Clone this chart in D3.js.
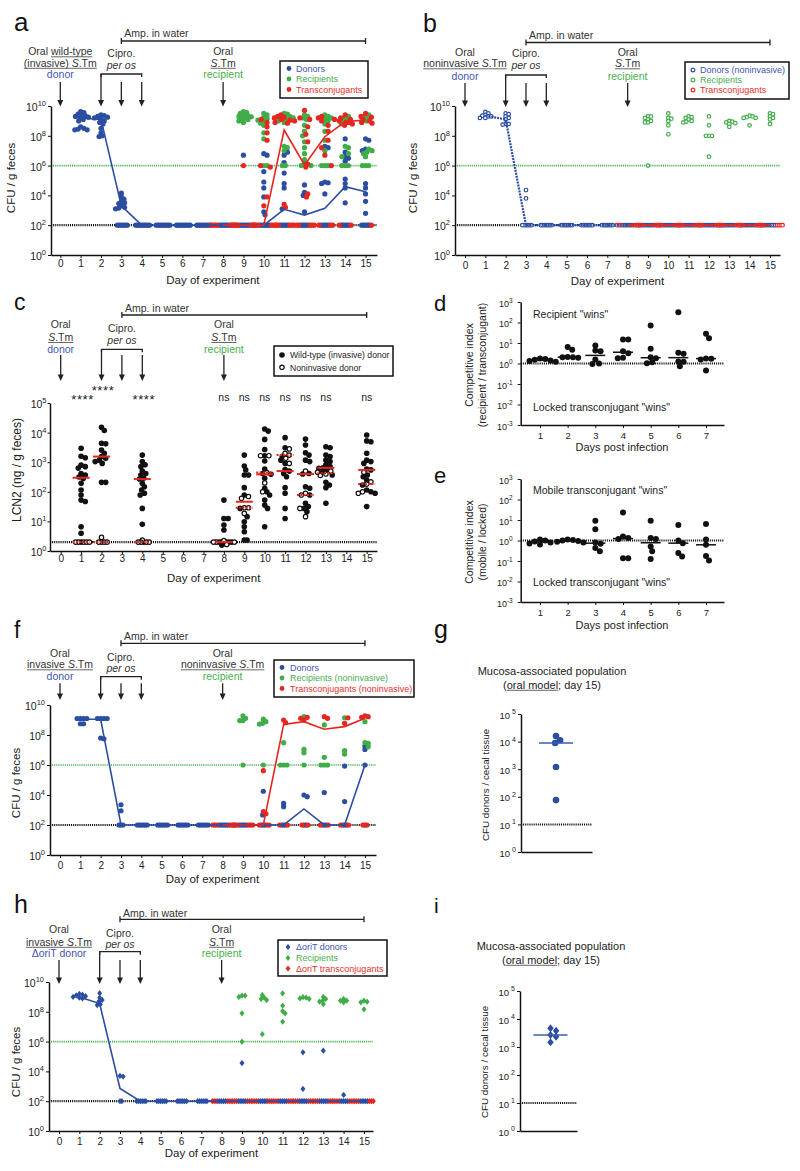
<!DOCTYPE html>
<html><head><meta charset="utf-8">
<script src="https://cdn.jsdelivr.net/npm/d3@7"></script>
<style>
body{margin:0;background:#fff;}
svg{display:block;font-family:'Liberation Sans',Arial,Helvetica,sans-serif;}
</style></head><body>
<svg id="fig" width="800" height="1171"></svg>
<script>
// ---------------- DATA ----------------
const dayTicks = [0,1,2,3,4,5,6,7,8,9,10,11,12,13,14,15];
const cfuTickExps = [0,2,4,6,8,10];
const lcnTickExps = [0,1,2,3,4,5];
const ciTickExps = [-3,-2,-1,0,1,2,3];
const dpiTicks = [1,2,3,4,5,6,7];
const mucTickExps = [0,1,2,3,4,5];
const treatmentArrowDays = [0,2,3,4,8];
const LOD_CFU_LOG = 2;      // detection limit, log10 CFU/g
const REC_LIMIT_LOG = 6;    // recipient detection limit, log10 CFU/g
const LOD_LCN_LOG = 0.3;    // 2 ng/g
const MUC_LOD_LOG = 1;

// panel a (log10 CFU / g feces, index = day)
const aDonorsLog = [[],
 [9.62,9.55,9.45,9.4,9.35,9.3,9.25,9.2,9.1,9.0,8.6,8.5,8.45,8.4,8.4],
 [9.4,9.35,9.3,9.25,9.2,9.1,9.0,8.9,8.8,8.5,8.2,7.95,8.0],
 [4.15,3.9,3.75,3.6,3.5,3.45,3.3,3.2,3.15,3.1],
 [],[],[],[],[],
 [6.7],
 [6.8,6.7,5.6,4.9,4.5,3.9,2.9,2.7],
 [6.9,6.7,6.2,5.5,4.8,4.5,3.1],
 [6.1,4.7,4.2,4.0,2.9],
 [7.3,7.2,4.9,4.85,4.8,4.1],
 [7.8,6.9,6.6,6.5,6.3,5.1,4.8,4.5,3.5],
 [7.8,7.7,7.1,7.0,4.8,4.5,4.1,3.6,2.8]];
const aDonorsLod = [0,0,0,6,8,8,8,8,6,6,6,5,5,5,5,5];
const aRecipLog = [[],[],[],[],[],[],[],[],[],
 [9.62,9.55,9.5,9.4,9.35,9.3,9.28,9.2,9.15,9.1,9.0,8.9],
 [9.5,9.4,9.25,9.15,9.05,8.95,8.85,8.7,8.2,7.8,6.0,6.0],
 [9.5,9.45,9.3,9.2,9.1,9.0,8.9,7.3,7.2,7.0,6.0,6.0],
 [9.4,9.3,9.2,9.1,8.7,8.3,8.0,7.6,7.2,6.8,6.4,6.0,6.0],
 [9.4,9.3,9.2,9.1,9.0,8.8,8.3,7.7,7.0,6.0,6.0,6.0],
 [9.3,9.2,9.1,9.0,8.8,7.3,7.2,6.8,6.6,6.0,6.0,6.0],
 [9.4,9.3,9.2,9.0,7.1,7.0,6.9,6.8,6.6,6.0,6.0,6.0]];
const aTransLog = [[],[],[],[],[],[],[],[],[],
 [6.0],
 [9.1,8.9,8.6,8.2,7.7,6.0,5.9,3.9,3.3],
 [9.4,9.3,9.25,9.2,9.1,9.05,9.0,8.9,8.85,3.4,3.2],
 [9.7,9.2,9.1,8.6,8.1,7.6,6.1,5.9,4.1,3.9],
 [9.3,9.2,9.1,9.0,8.7,8.3,7.7,7.2,6.7,6.0],
 [9.4,9.2,9.1,9.0,8.9,8.9,8.8,8.7],
 [9.5,9.3,9.25,9.1,9.0,8.9,8.85]];
const aTransLod = [0,0,0,0,0,0,0,0,8,7,7,5,5,3,2,1];
const aDonorMedLog = [null,9.2,9.1,3.3,2,2,2,2,2,2,2,3.07,2.68,3.13,4.58,4.25];
const aTransMedLog = [null,null,null,null,null,null,null,null,2,2,2,8.39,6.04,7.94,8.95,9.06];

// panel b
const bDonorsLog = [[],[9.6,9.5,9.4,9.35,9.3,9.3,9.2,9.2],[9.5,9.45,9.3,9.2,9.1,8.8,8.8,8.75],[4.36,3.8],[],[],[],[],[],[],[],[],[],[],[],[]];
const bDonorsLod = [0,0,0,6,7,7,7,7,7,7,7,7,7,7,7,7];
const bRecipLog = [[],[],[],[],[],[],[],[],[],
 [9.3,9.3,9.2,9.1,9.0,8.9,8.9,6.0],[9.5,9.2,9.15,9.0,8.7,8.1],[9.3,9.25,9.2,9.1,9.0,8.95,8.9],
 [9.3,8.7,8.0,8.0,8.0,6.6],[9.0,8.95,8.9,8.85,8.8,8.6],[9.35,9.3,9.25,9.2,9.2,8.7],[9.5,9.45,9.3,9.2,9.1,8.8]];
const bTransLog = [[],[],[],[],[],[],[],[],[],[],[],[],[],[],[],[]];
const bTransLod = [0,0,0,0,0,0,0,0,7,7,7,7,7,7,7,7];
const bDonorMedLog = [null,9.35,9.1,2,2,2,2,2,2,2,2,2,2,2,2,2];
const bTransMedLog = [null,null,null,null,null,null,null,null,2,2,2,2,2,2,2,2];

// panel c (log10 LCN2 ng / g feces)
const cWtLog = [[],
 [3.47,3.2,3.15,2.9,2.85,2.8,2.62,2.57,2.5,2.45,2.29,2.06,1.89,1.72,1.67,0.82,0.6,0.3],
 [4.18,4.07,3.64,3.62,3.41,3.3,3.19,3.13,3.07,3.02,2.96,2.32,2.32],
 [],
 [3.24,3.02,2.91,2.85,2.7,2.62,2.57,2.46,2.43,2.29,2.17,2.06,1.95,1.89,1.44,0.9,0.3],
 [],[],[],
 [1.72,1.1,1.1,0.88,0.71,0.3,0.3,0.3,0.3,0.3,0.25,0.2],
 [3.24,2.87,2.74,2.57,2.57,2.14,1.89,1.44,1.16,0.99,0.82,0.65,0.37,0.37],
 [4.12,4.05,3.77,3.43,3.22,3.04,2.77,2.62,2.59,2.46,2.12,2.0,1.89,1.72,1.55,1.44,0.82],
 [3.83,3.49,3.2,3.07,2.96,2.75,2.7,2.62,2.51,2.14,1.95,1.44,1.1],
 [3.78,3.58,3.32,3.24,3.07,3.02,2.62,2.6,2.17,2.12,1.89,1.61,1.5,1.44,1.33],
 [3.52,3.49,3.24,3.19,3.07,3.02,2.91,2.85,2.81,2.79,2.74,2.68,2.57,2.32,2.23,2.14,1.61],
 [],
 [3.92,3.72,3.69,3.3,3.07,3.02,2.96,2.77,2.74,2.57,2.51,2.4,2.23,2.06,2.0,1.95,1.5]];
const cNonLog = [[],
 [0.3,0.3,0.3,0.3,0.3],
 [0.46,0.3,0.3,0.3,0.3],
 [],
 [0.37,0.3,0.3,0.3,0.3],
 [],[],[],
 [0.35,0.3,0.3,0.3,0.22],
 [1.84,1.78,1.46,1.46,1.27],
 [3.22,3.22,2.65,2.3,2.0],
 [3.45,3.3,3.24,3.13,2.96],
 [2.7,1.95,1.89,1.44,1.16],
 [2.7,2.66,2.6,2.55],
 [],
 [2.66,2.34,2.26,2.0,1.95]];
const cSigDays = [1,2,4,8,9,10,11,12,13,15];
const cSigLabels = ["****","****","****","ns","ns","ns","ns","ns","ns","ns"];

// panels d, e (log10 competitive index, index = day post infection)
const dLog = [[],[0.25,0.22,0.18,0.15,0.12,0.08],[0.8,0.67,0.32,0.3,0.3,0.28],[0.88,0.63,0.6,0.19,-0.02,0.0],
 [1.17,1.17,0.6,0.5,0.28,0.26],[1.85,0.72,0.3,0.26,0.06,0.01],[2.5,0.52,0.47,0.1,0.08,-0.14],[1.45,1.23,0.25,0.23,0.2,-0.34]];
const eLog = [[],[0.05,0.0,-0.05,-0.1,-0.15,-0.2],[0.05,0.02,0,-0.03,-0.06,-0.1],[0.96,0.55,-0.1,-0.16,-0.37,-0.53],
 [1.36,0.2,0.12,0.07,-0.86,-0.86],[0.96,0.12,0.07,-0.29,-0.53,-0.9],[0.76,0,-0.13,-0.61,-0.78],[0.8,0.05,-0.21,-0.76,-0.97]];

// panel f
const fDonorsLog = [[],[9.1,9.1,9.1,9.1,8.75,8.75],[9.1,9.1,9.1,9.1,7.8,7.75],[3.35,2.95],[],[],[],[],[],[],
 [4.25,2.67],[3.44,3.22],[4.0,3.89],[4.16],[5.93,3.56],[7.27,7.04,6.0]];
const fDonorsLod = [0,0,0,3,6,6,6,6,6,5,3,3,2,3,3,1];
const fRecipLog = [[],[],[],[],[],[],[],[],[],
 [9.27,9.11,8.96,8.96,6.0],[9.06,8.89,8.78,8.73,6.0],[7.49,6.0,6.0,6.0],[9.22,7.04,6.82,6.0],
 [8.67,6.51,6.0,6.0,6.0],[9.15,6.96,6.73],[8.89,7.49,7.44,7.22]];
const fTransLog = [[],[],[],[],[],[],[],[],[],[],
 [5.62,2.9,2.75],[9.0,8.82],[9.0,9.18,9.11],[9.11,9.22],[8.78,9.15],[9.18,9.22,9.27]];
const fTransLod = [0,0,0,0,0,0,0,0,6,6,3,2,2,2,2,2];
const fDonorMedLog = [null,9.05,9.05,2,2,2,2,2,2,2,2,2,3.07,2,2,6.0];
const fTransMedLog = [null,null,null,null,null,null,null,null,2,2,2,8.71,8.89,8.38,8.56,9.11];

// panel g, i (log10 CFU donors / cecal tissue)
const gLog = [4.2,4.05,3.95,3.08,1.88];
const iLog = [3.67,3.58,3.43,3.37,3.17];

// panel h
const hDonorsLog = [[],[9.2,9.15,9.1,9.05,9.0,8.95,8.9],[9.25,8.95,8.8,8.7,8.5,8.45],[3.7,3.65],[],[],[],[],[],
 [4.56],[],[],[5.28,2.82],[5.39],[2.42],[]];
const hDonorsLod = [0,0,0,2,6,6,6,6,5,5,5,5,5,5,5,5];
const hRecipLog = [[],[],[],[],[],[],[],[],[],
 [9.08,9.08,9.0,7.9,5.99],[9.13,8.95,8.86,8.79,6.5],[9.24,8.41,8.05,7.9,7.34],[8.98,8.95,8.9,8.86],
 [9.0,8.86,8.75,8.68,8.52],[8.86,8.75,8.75,8.64],[8.75,8.68,8.64,8.17]];
const hTransLog = [[],[],[],[],[],[],[],[],[],[],[],[],[],[],[],[]];
const hTransLod = [0,0,0,0,0,0,0,0,6,6,6,6,6,6,6,6];
const hDonorMedLog = [null,9.0,8.55,2.86,2,2,2,2,2,2,2,2,2,2,2,2];

// ---------------- STYLE ----------------
const FONT = "'Liberation Sans', Arial, Helvetica, sans-serif";
const BLUE = "#2b4ea3", GREEN = "#40ad48", RED = "#e6261f";
const BLUE_T = "#4356b3", GREEN_T = "#46b04d", RED_T = "#e8302a";
const INK = "#333";

const svg = d3.select("#fig");
svg.append("rect").attr("width",800).attr("height",1171).attr("fill","#fff");

function styleAxis(ag, size){
  ag.attr("font-family",FONT).attr("font-size",size);
  ag.select(".domain").attr("stroke","#111").attr("stroke-width",1.5);
  ag.selectAll(".tick line").attr("stroke","#111").attr("stroke-width",1);
  ag.selectAll(".tick text").attr("fill","#222");
}
function powLabels(ag, o){
  ag.selectAll(".tick text").each(function(d){
    const t = d3.select(this);
    const e = Math.round(Math.log10(d));
    t.text(null).attr("dy", null).attr("y", o.dy).attr("font-size", o.base);
    t.append("tspan").text("10");
    t.append("tspan").attr("dx", o.dx || 0).attr("dy", o.supDy).attr("font-size", o.sup).text(String(e));
  });
}
function hDotted(g,x1,x2,yv,color,w){
  g.append("line").attr("x1",x1).attr("x2",x2).attr("y1",yv).attr("y2",yv)
   .attr("stroke",color).attr("stroke-width",w).attr("stroke-dasharray","1.1,1");
}
function richText(g, x, y, parts, o){
  o = o || {};
  const t = g.append("text").attr("x",x).attr("y",y).attr("text-anchor",o.anchor||"middle")
    .attr("font-size",o.size||10.5).attr("fill",o.color||INK);
  parts.forEach(p=>{ const s=t.append("tspan").text(p.t); if(p.i) s.attr("font-style","italic"); if(p.c) s.attr("fill",p.c); });
  const node = t.node(); let idx = 0;
  parts.forEach(p=>{
    if(p.u){
      const s = node.getStartPositionOfChar(idx).x;
      const e = node.getEndPositionOfChar(idx+p.t.length-1).x;
      g.append("line").attr("x1",s).attr("x2",e).attr("y1",y+1.8).attr("y2",y+1.8)
       .attr("stroke",p.c||"#555").attr("stroke-width",0.9);
    }
    idx += p.t.length;
  });
  return t;
}
function arrow(g, x, y1, y2){
  g.append("line").attr("x1",x).attr("x2",x).attr("y1",y1).attr("y2",y2-5).attr("stroke","#222").attr("stroke-width",1.3);
  g.append("path").attr("d",`M${x-3},${y2-6.5}L${x+3},${y2-6.5}L${x},${y2}Z`).attr("fill","#222");
}
function drawMarker(g, x, y, type, color, r){
  if(type==="dot") g.append("circle").attr("cx",x).attr("cy",y).attr("r",r).attr("fill",color);
  else if(type==="open") g.append("circle").attr("cx",x).attr("cy",y).attr("r",r-0.6).attr("fill","#fff").attr("stroke",color).attr("stroke-width",1.2);
  else if(type==="diamond") g.append("path").attr("d",`M${x},${y-r*1.25}L${x+r},${y}L${x},${y+r*1.25}L${x-r},${y}Z`).attr("fill",color);
}
function swarmLayout(items, r, f, tightF){
  const groups = d3.group(items, d=>d.key);
  for(const [k, arr] of groups){
    const placed = [];
    arr.slice().sort((a,b)=>a.cy-b.cy).forEach(it=>{
      let px = it.cx;
      for(let i=0;i<200;i++){
        const off = i===0 ? 0 : (i%2 ? 1 : -1)*Math.ceil(i/2)*r*0.25;
        const cand = it.cx + off;
        const ok = placed.every(p=>{
          const md = 2*r*((it.tight && p.tight) ? tightF : f);
          return (p.x-cand)**2 + (p.y-it.cy)**2 >= md*md;
        });
        if(ok){ px = cand; break; }
      }
      it.x = px; placed.push({x:px, y:it.cy, tight:it.tight});
    });
  }
}
function panelLetter(t, x, y, size){
  svg.append("text").attr("x",x).attr("y",y).attr("font-size",size).attr("fill","#111").attr("font-family",FONT).text(t);
}
function legend(g, L, rows){
  g.append("rect").attr("x",L.x).attr("y",L.y).attr("width",L.w).attr("height",L.h)
   .attr("fill","#fff").attr("stroke","#111").attr("stroke-width",1.5);
  rows.forEach((r,i)=>{
    drawMarker(g, L.dotX, L.rows[i], r.marker, r.color, r.r || 2.4);
    g.append("text").attr("x",L.textX).attr("y",L.rows[i]+3.2).attr("font-size",L.size||9)
     .attr("fill",r.textColor).text(r.label);
  });
}
function annotations(g, x, a){
  const ax1 = x(3), ax2 = x(15);
  g.append("text").attr("x",ax1+3).attr("y",a.ampTextY).attr("font-size",10.5).attr("fill",INK).text("Amp. in water");
  g.append("path").attr("d",`M${ax1},${a.ampY-3}V${a.ampY+3}M${ax1},${a.ampY}H${ax2}M${ax2},${a.ampY-3}V${a.ampY+3}`)
   .attr("stroke","#222").attr("stroke-width",1.3).attr("fill","none");
  a.donor.forEach((parts,i)=>richText(g, x(0), a.oralY[i], parts));
  a.recip.forEach((parts,i)=>richText(g, x(8), a.oralY[i], parts));
  richText(g, x(3), a.ciproY[0], [{t:"Cipro."}]);
  richText(g, x(3), a.ciproY[1], [{t:"per os", i:1}]);
  g.append("path").attr("d",`M${x(2)},${a.cbY+3}V${a.cbY}H${x(4)}V${a.cbY+3}`)
   .attr("stroke","#222").attr("stroke-width",1.3).attr("fill","none");
  treatmentArrowDays.forEach(d=>arrow(g, x(d), d===2 ? a.cbY : a.arrowTop, a.arrowBot));
}

// ---------------- CFU PANELS ----------------
function cfuPanel(cfg){
  const g = svg.append("g").attr("font-family",FONT);
  const x = d3.scaleLinear().domain([0,15]).range([cfg.x0, cfg.x0+15*cfg.dx]);
  const xa = d3.scaleLinear().domain([x.invert(cfg.axisX), x.invert(cfg.xEnd)]).range([cfg.axisX, cfg.xEnd]);
  const y = d3.scaleLog().domain([1,1e10]).range([cfg.yBot, cfg.yTop]);
  hDotted(g, cfg.axisX, cfg.xEnd, y(10**REC_LIMIT_LOG), GREEN, 1.6);
  hDotted(g, cfg.axisX, cfg.xEnd, y(10**LOD_CFU_LOG), "#111", 2.2);
  const xg = g.append("g").attr("transform",`translate(0,${cfg.yBot})`)
    .call(d3.axisBottom(xa).tickValues(dayTicks).tickSize(3).tickSizeOuter(0).tickPadding(cfg.xPad));
  styleAxis(xg, 10);
  const yg = g.append("g").attr("transform",`translate(${cfg.axisX},0)`)
    .call(d3.axisLeft(y).tickValues(cfuTickExps.map(e=>10**e)).tickSize(3).tickSizeOuter(0).tickPadding(2));
  styleAxis(yg, 10.5);
  powLabels(yg, {dy:4.5, base:10.5, sup:7.5, supDy:-5});
  g.append("text").attr("x",(x(0)+x(15))/2).attr("y",cfg.xTitleY).attr("text-anchor","middle").attr("font-size",11.5).attr("fill","#222").text("Day of experiment");
  g.append("text").attr("transform",`translate(${cfg.yTitleX},${cfg.yTitleY}) rotate(-90)`).attr("text-anchor","middle").attr("font-size",11.5).attr("fill","#222").text("CFU / g feces");

  const items = [];
  cfg.series.forEach((s,si)=>{
    dayTicks.forEach(d=>{
      const vals = (s.vals[d]||[]).slice();
      const n = s.lod ? s.lod[d] : 0;
      for(let k=0;k<n;k++) vals.push(LOD_CFU_LOG);
      vals.forEach(v=>items.push({key:d, cx:x(d), cy:y(10**v), si, tight: v===LOD_CFU_LOG}));
    });
  });
  swarmLayout(items, cfg.r, 0.62, 0.26);
  cfg.series.forEach((s,si)=>items.filter(it=>it.si===si).forEach(it=>drawMarker(g, it.x, it.cy, cfg.marker, s.color, cfg.r)));
  cfg.lines.forEach(l=>{
    const pts = dayTicks.filter(d=>l.vals[d]!=null).map(d=>[x(d), y(10**l.vals[d])]);
    g.append("path").attr("d",d3.line()(pts)).attr("fill","none").attr("stroke",l.color)
     .attr("stroke-width",l.w||1.6).attr("stroke-dasharray",l.dash||null);
  });
  annotations(g, x, cfg.anno);
  legend(g, cfg.legend, cfg.series.map(s=>({label:s.label, color:s.color, textColor:s.textColor, marker:cfg.marker, r:cfg.legendR||2.4})));
}

const recipDefault = [[{t:"Oral"}],[{t:"S",i:1,u:1},{t:".Tm",u:1}],[{t:"recipient",c:GREEN_T}]];

cfuPanel({
  x0:60.3, dx:20.35, axisX:51, xEnd:377, yTop:106, yBot:255, xPad:1.9, xTitleY:284, yTitleX:15, yTitleY:178,
  r:2.6, marker:"dot",
  series:[
    {vals:aDonorsLog, lod:aDonorsLod, color:BLUE, textColor:BLUE_T, label:"Donors"},
    {vals:aRecipLog, lod:null, color:GREEN, textColor:GREEN_T, label:"Recipients"},
    {vals:aTransLog, lod:aTransLod, color:RED, textColor:RED_T, label:"Transconjugants"}],
  lines:[{vals:aDonorMedLog, color:BLUE},{vals:aTransMedLog, color:RED}],
  anno:{ampTextY:37, ampY:41, oralY:[55,66.5,78], ciproY:[57,68.5], cbY:74, arrowTop:82, arrowBot:106.5,
    donor:[[{t:"Oral "},{t:"wild-type",u:1}],[{t:"(invasive) ",u:1},{t:"S",i:1,u:1},{t:".Tm",u:1}],[{t:"donor",c:BLUE_T}]],
    recip:recipDefault},
  legend:{x:280,y:61,w:88,h:37,rows:[68.5,79,89.5],dotX:289,textX:296}
});

cfuPanel({
  x0:465, dx:20.33, axisX:455, xEnd:780, yTop:106, yBot:255, xPad:4.2, xTitleY:285, yTitleX:417, yTitleY:178,
  r:2.4, marker:"open", legendR:2.5,
  series:[
    {vals:bDonorsLog, lod:bDonorsLod, color:BLUE, textColor:BLUE_T, label:"Donors (noninvasive)"},
    {vals:bRecipLog, lod:null, color:GREEN, textColor:GREEN_T, label:"Recipients"},
    {vals:bTransLog, lod:bTransLod, color:RED, textColor:RED_T, label:"Transconjugants"}],
  lines:[{vals:bDonorMedLog, color:BLUE, dash:"2,1", w:2.2},{vals:bTransMedLog, color:RED, w:2}],
  anno:{ampTextY:39, ampY:42.5, oralY:[55.5,67,80], ciproY:[57,69], cbY:75, arrowTop:83, arrowBot:107,
    donor:[[{t:"Oral"}],[{t:"noninvasive ",u:1},{t:"S",i:1,u:1},{t:".Tm",u:1}],[{t:"donor",c:BLUE_T}]],
    recip:recipDefault},
  legend:{x:685,y:62,w:104,h:37,rows:[70,80,90],dotX:693,textX:700}
});

cfuPanel({
  x0:60, dx:20.33, axisX:50, xEnd:376, yTop:705, yBot:855, xPad:4.2, xTitleY:883, yTitleX:20, yTitleY:783,
  r:2.6, marker:"dot",
  series:[
    {vals:fDonorsLog, lod:fDonorsLod, color:BLUE, textColor:BLUE_T, label:"Donors"},
    {vals:fRecipLog, lod:null, color:GREEN, textColor:GREEN_T, label:"Recipients (noninvasive)"},
    {vals:fTransLog, lod:fTransLod, color:RED, textColor:RED_T, label:"Transconjugants (noninvasive)"}],
  lines:[{vals:fDonorMedLog, color:BLUE},{vals:fTransMedLog, color:RED}],
  anno:{ampTextY:640, ampY:643.3, oralY:[656.5,668,680], ciproY:[660.5,671.5], cbY:676.7, arrowTop:683.3, arrowBot:700,
    donor:[[{t:"Oral"}],[{t:"invasive ",u:1},{t:"S",i:1,u:1},{t:".Tm",u:1}],[{t:"donor",c:BLUE_T}]],
    recip:[[{t:"Oral"}],[{t:"noninvasive ",u:1},{t:"S",i:1,u:1},{t:".Tm",u:1}],[{t:"recipient",c:GREEN_T}]]},
  legend:{x:274,y:660,w:140,h:37,rows:[667.5,678,688.5],dotX:282,textX:290}
});

cfuPanel({
  x0:59, dx:20.33, axisX:49, xEnd:373, yTop:982, yBot:1131, xPad:4.2, xTitleY:1157, yTitleX:20, yTitleY:1062,
  r:2.5, marker:"diamond", legendR:2.4,
  series:[
    {vals:hDonorsLog, lod:hDonorsLod, color:BLUE, textColor:BLUE_T, label:"\u0394oriT donors"},
    {vals:hRecipLog, lod:null, color:GREEN, textColor:GREEN_T, label:"Recipients"},
    {vals:hTransLog, lod:hTransLod, color:RED, textColor:RED_T, label:"\u0394oriT transconjugants"}],
  lines:[{vals:hDonorMedLog, color:BLUE}],
  anno:{ampTextY:916.5, ampY:919.3, oralY:[933,945.5,957], ciproY:[936.5,948], cbY:951.7, arrowTop:960, arrowBot:984,
    donor:[[{t:"Oral"}],[{t:"invasive ",u:1},{t:"S",i:1,u:1},{t:".Tm",u:1}],[{t:"\u0394oriT donor",c:BLUE_T}]],
    recip:recipDefault},
  legend:{x:278,y:940,w:109,h:36,rows:[947,958,968.5],dotX:288,textX:296}
});

// ---------------- PANEL C ----------------
(function(){
  const cfg = {x0:60.7, dx:20.4, axisX:50, xEnd:377, yTop:403, yBot:551};
  const g = svg.append("g").attr("font-family",FONT);
  const x = d3.scaleLinear().domain([0,15]).range([cfg.x0, cfg.x0+15*cfg.dx]);
  const xa = d3.scaleLinear().domain([x.invert(cfg.axisX), x.invert(cfg.xEnd)]).range([cfg.axisX, cfg.xEnd]);
  const y = d3.scaleLog().domain([1,1e5]).range([cfg.yBot, cfg.yTop]);
  hDotted(g, cfg.axisX, cfg.xEnd, y(10**LOD_LCN_LOG), "#111", 2.2);
  const xg = g.append("g").attr("transform",`translate(0,${cfg.yBot})`)
    .call(d3.axisBottom(xa).tickValues(dayTicks).tickSize(3).tickSizeOuter(0).tickPadding(1));
  styleAxis(xg, 10);
  const yg = g.append("g").attr("transform",`translate(${cfg.axisX},0)`)
    .call(d3.axisLeft(y).tickValues(lcnTickExps.map(e=>10**e)).tickSize(2.5).tickSizeOuter(0).tickPadding(1));
  styleAxis(yg, 10.5);
  powLabels(yg, {dy:4.5, base:10.5, sup:7.5, supDy:-5});
  g.append("text").attr("x",(x(0)+x(15))/2).attr("y",582).attr("text-anchor","middle").attr("font-size",11.5).attr("fill","#222").text("Day of experiment");
  g.append("text").attr("transform","translate(21,470) rotate(-90)").attr("text-anchor","middle").attr("font-size",12).attr("fill","#222").text("LCN2 (ng / g feces)");

  const items = [];
  [cWtLog, cNonLog].forEach((arr,si)=>{
    dayTicks.forEach(d=>{
      (arr[d]||[]).forEach(v=>items.push({key:d, cx:x(d), cy:y(10**v), si, tight: Math.abs(v-LOD_LCN_LOG)<0.11}));
    });
  });
  swarmLayout(items, 2.8, 0.72, 0.42);
  items.filter(it=>it.si===0).forEach(it=>drawMarker(g, it.x, it.cy, "dot", "#111", 2.8));
  items.filter(it=>it.si===1).forEach(it=>drawMarker(g, it.x, it.cy, "open", "#111", 2.8));
  [[cWtLog,null],[cNonLog,"2,1.3"]].forEach(([arr,dash])=>{
    dayTicks.forEach(d=>{
      if(!arr[d] || !arr[d].length) return;
      const m = d3.median(arr[d]);
      g.append("line").attr("x1",x(d)-8.5).attr("x2",x(d)+8.5).attr("y1",y(10**m)).attr("y2",y(10**m))
       .attr("stroke",RED).attr("stroke-width",2).attr("stroke-dasharray",dash);
    });
  });
  cSigDays.forEach((d,i)=>{
    const stars = cSigLabels[i] === "****";
    const raised = stars && d===2;
    g.append("text").attr("x",x(d)+(stars?1.5:0)).attr("y", raised ? 395 : (stars ? 404 : 400.5))
     .attr("text-anchor","middle").attr("font-size", stars ? 13 : 10.5).attr("letter-spacing", stars ? 0.6 : 0)
     .attr("fill","#222").text(cSigLabels[i]);
  });
  annotations(g, x, {ampTextY:312, ampY:315, oralY:[328,340.7,353], ciproY:[332,344], cbY:349.3, arrowTop:355, arrowBot:381,
    donor:[[{t:"Oral"}],[{t:"S",i:1,u:1},{t:".Tm",u:1}],[{t:"donor",c:BLUE_T}]],
    recip:recipDefault});
  legend(g, {x:274,y:346,w:119,h:30,rows:[355,367.3],dotX:282,textX:290,size:8.6},
    [{label:"Wild-type (invasive) donor", color:"#111", textColor:"#222", marker:"dot", r:2.8},
     {label:"Noninvasive donor", color:"#111", textColor:"#222", marker:"open", r:2.8}]);
})();

// ---------------- PANELS D, E ----------------
function ciPanel(cfg){
  const g = svg.append("g").attr("font-family",FONT);
  const x = d3.scaleLinear().domain([1,7]).range([540,706]);
  const xa = d3.scaleLinear().domain([x.invert(520.7), x.invert(724)]).range([520.7,724]);
  const y = d3.scaleLog().domain([1e-3,1e3]).range([cfg.yBot, cfg.yTop]);
  hDotted(g, 520.7, 724, y(1), "#111", 2.2);
  const xg = g.append("g").attr("transform",`translate(0,${cfg.yBot})`)
    .call(d3.axisBottom(xa).tickValues(dpiTicks).tickSize(3).tickSizeOuter(0).tickPadding(cfg.xPad));
  styleAxis(xg, 9.5);
  const yg = g.append("g").attr("transform","translate(520.7,0)")
    .call(d3.axisLeft(y).tickValues(ciTickExps.map(e=>10**e)).tickSize(3).tickSizeOuter(0).tickPadding(5));
  styleAxis(yg, 9);
  powLabels(yg, {dy:4, base:9, sup:6.5, supDy:-4});
  g.append("text").attr("x",622).attr("y",cfg.xTitleY).attr("text-anchor","middle").attr("font-size",11).attr("fill","#222").text("Days post infection");
  cfg.ylab.forEach((t,i)=>g.append("text").attr("transform",`translate(${[473,486][i]},${cfg.ylabY}) rotate(-90)`)
    .attr("text-anchor","middle").attr("font-size",10.5).attr("fill","#222").text(t));
  g.append("text").attr("x",533).attr("y",cfg.topY).attr("font-size",10.5).attr("fill","#222").text(cfg.topText);
  g.append("text").attr("x",533).attr("y",cfg.botY).attr("font-size",10.5).attr("fill","#222").text(cfg.botText);
  const items = [];
  dpiTicks.forEach(d=>cfg.vals[d].forEach(v=>items.push({key:d, cx:x(d), cy:y(10**v)})));
  swarmLayout(items, 3, 0.85, 0.85);
  items.forEach(it=>drawMarker(g, it.x, it.cy, "dot", "#111", 3));
  dpiTicks.forEach(d=>{
    const m = d3.median(cfg.vals[d]);
    g.append("line").attr("x1",x(d)-10).attr("x2",x(d)+10).attr("y1",y(10**m)).attr("y2",y(10**m)).attr("stroke","#111").attr("stroke-width",1.5);
  });
}
ciPanel({yTop:302, yBot:425, xPad:3.8, xTitleY:451, vals:dLog, ylab:["Competitive index","(recipient / transconjugant)"], ylabY:365,
  topText:'Recipient "wins"', topY:318, botText:'Locked transconjugant "wins"', botY:411});
ciPanel({yTop:479, yBot:602, xPad:4.2, xTitleY:629, vals:eLog, ylab:["Competitive index","(mobile / locked)"], ylabY:542,
  topText:'Mobile transconjugant "wins"', topY:494, botText:'Locked transconjugant "wins"', botY:586});

// ---------------- PANELS G, I ----------------
function mucPanel(cfg){
  const g = svg.append("g").attr("font-family",FONT);
  const y = d3.scaleLog().domain([1,1e5]).range([cfg.yBot, cfg.yTop]);
  const xa = d3.scaleLinear().domain([0,1]).range([cfg.axisX, cfg.xEnd]);
  hDotted(g, cfg.axisX, cfg.xEnd, y(10**MUC_LOD_LOG), "#111", 2);
  const xg = g.append("g").attr("transform",`translate(0,${cfg.yBot})`).call(d3.axisBottom(xa).tickValues([]).tickSizeOuter(0));
  styleAxis(xg, 9.5);
  const yg = g.append("g").attr("transform",`translate(${cfg.axisX},0)`)
    .call(d3.axisLeft(y).tickValues(mucTickExps.map(e=>10**e)).tickSize(3).tickSizeOuter(0).tickPadding(2));
  styleAxis(yg, 9.5);
  powLabels(yg, {dy:4, base:9.5, sup:7, supDy:-4.5, dx:2});
  g.append("text").attr("transform",`translate(${cfg.ylabX},${cfg.ylabY}) rotate(-90)`).attr("text-anchor","middle")
   .attr("font-size",9.8).attr("fill","#222").text("CFU donors / cecal tissue");
  g.append("text").attr("x",cfg.titleX).attr("y",cfg.titleY).attr("text-anchor","middle").attr("font-size",11).attr("fill","#222").text("Mucosa-associated population");
  richText(g, cfg.titleX, cfg.titleY+13.5, [{t:"("},{t:"oral model",u:1},{t:"; day 15)"}], {size:11, color:"#222"});
  const items = cfg.vals.map(v=>({key:0, cx:cfg.cx, cy:y(10**v)}));
  swarmLayout(items, cfg.r, 0.85, 0.85);
  items.forEach(it=>drawMarker(g, it.x, it.cy, cfg.marker, BLUE, cfg.r));
  const m = d3.median(cfg.vals);
  g.append("line").attr("x1",cfg.cx-17).attr("x2",cfg.cx+17).attr("y1",y(10**m)).attr("y2",y(10**m)).attr("stroke","#3d5db3").attr("stroke-width",1.6);
}
mucPanel({axisX:521, xEnd:592, yTop:714, yBot:852, cx:556, r:3.3, marker:"dot", vals:gLog, ylabX:489, ylabY:785, titleX:552, titleY:675});
mucPanel({axisX:520, xEnd:577, yTop:991, yBot:1131, cx:550.5, r:3.2, marker:"diamond", vals:iLog, ylabX:488, ylabY:1062, titleX:551, titleY:950});

// ---------------- PANEL LETTERS ----------------
panelLetter("a", 14, 30.7, 26);
panelLetter("b", 423, 31.7, 25);
panelLetter("c", 14, 310, 23);
panelLetter("d", 434, 310.5, 22);
panelLetter("e", 434, 483.3, 22);
panelLetter("f", 14, 638, 23);
panelLetter("g", 434, 638.3, 25);
panelLetter("h", 14, 913, 25);
panelLetter("i", 434, 913, 21);
</script>
</body></html>
